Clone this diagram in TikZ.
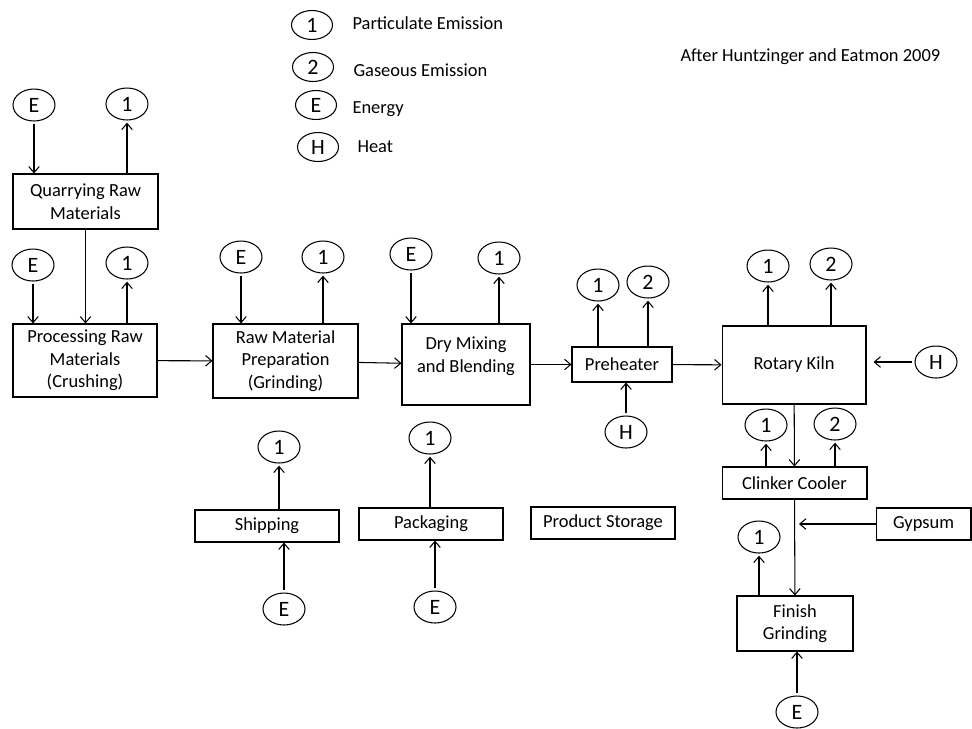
\documentclass[tikz,border=0pt]{standalone}
\usepackage{fontspec}
\setmainfont{Carlito}
\usetikzlibrary{shapes.geometric,arrows.meta}
\tikzstyle{stage} = [draw, rectangle, align=center, inner sep=0pt, font=\fontsize{10.5}{12.8}\selectfont]
\tikzstyle{tag} = [draw, ellipse, minimum width=0.84cm, minimum height=0.64cm, inner sep=0pt, outer sep=1.5pt, font=\fontsize{12.5}{14}\selectfont]
\tikzstyle{key} = [tag, minimum width=0.82cm, minimum height=0.58cm]
\tikzstyle{note} = [anchor=west, inner sep=0pt, font=\fontsize{10.5}{12.8}\selectfont]
\tikzstyle{flow} = [-{Straight Barb[length=3.5pt,width=6pt]}]

\begin{document}
\begin{tikzpicture}[x=0.02cm, y=-0.02cm, line width=0.6pt]
\useasboundingbox (0,0) rectangle (972,728);

% legend
\node[key] (l1) at (312,25) {1};
\node[key] (l2) at (313,67) {2};
\node[key] (le) at (316,105) {E};
\node[key] (lh) at (318,147) {H};
\node[note] (l1t) at (352,23) {Particulate Emission};
\node[note] (l2t) at (353,70) {Gaseous Emission};
\node[note] (let) at (352,109) {Energy};
\node[note] (lht) at (357,147) {Heat};
\node[note] (src) at (680,57) {After Huntzinger and Eatmon 2009};

% process stages
\node[stage, minimum width=2.9cm, minimum height=1.1cm] (quarry) at (85.5,201.5) {Quarrying Raw\\Materials};
\node[stage, minimum width=2.88cm, minimum height=1.46cm] (proc) at (85,360.5) {Processing Raw\\Materials\\(Crushing)};
\node[stage, minimum width=2.9cm, minimum height=1.48cm] (prep) at (285.5,361) {Raw Material\\Preparation\\(Grinding)};
\node[stage, minimum width=2.56cm, minimum height=1.62cm] (dry) at (466,364.5) {Dry Mixing\\and Blending\\[-1.5pt]\mbox{}};
\node[stage, minimum width=2cm, minimum height=0.7cm] (pre) at (622,364.5) {Preheater};
\node[stage, minimum width=2.88cm, minimum height=1.56cm] (kiln) at (794,365) {Rotary Kiln};
\node[stage, minimum width=2.9cm, minimum height=0.64cm] (cool) at (794.5,483) {Clinker Cooler};
\node[stage, minimum width=1.9cm, minimum height=0.64cm] (gyp) at (923.5,524) {Gypsum};
\node[stage, minimum width=2.32cm, minimum height=1.1cm] (fin) at (795,623.5) {Finish\\Grinding};
\node[stage, minimum width=2.88cm, minimum height=0.64cm] (ship) at (267,526) {Shipping};
\node[stage, minimum width=2.88cm, minimum height=0.64cm] (pack) at (431,524) {Packaging};
\node[stage, minimum width=2.88cm, minimum height=0.64cm] (store) at (603,523) {Product Storage};

% inputs and emissions
\node[tag] (qe) at (34,105) {E};
\node[tag] (q1) at (127,104) {1};
\node[tag] (pe) at (33,265) {E};
\node[tag] (p1) at (127,263) {1};
\node[tag] (re) at (241,257) {E};
\node[tag] (r1) at (323,257) {1};
\node[tag] (de) at (411,254) {E};
\node[tag] (d1) at (499,258) {1};
\node[tag] (h1) at (598,285) {1};
\node[tag] (h2) at (648,282) {2};
\node[tag] (hh) at (626,432) {H};
\node[tag] (k1) at (768,266) {1};
\node[tag] (k2) at (831,264) {2};
\node[tag] (kh) at (936,362) {H};
\node[tag] (c1) at (766,425) {1};
\node[tag] (c2) at (835,424) {2};
\node[tag] (f1) at (759,537) {1};
\node[tag] (fe) at (797,712) {E};
\node[tag] (s1) at (279,447) {1};
\node[tag] (se) at (284,609) {E};
\node[tag] (a1) at (430,438) {1};
\node[tag] (ae) at (435,607) {E};
\coordinate (gj) at (799,524);

% main line
\draw[flow] (quarry.south) -- (quarry.south |- proc.north);
\draw[flow] (proc) -- (prep);
\draw[flow] (prep) -- (dry);
\draw[flow] (dry) -- (pre);
\draw[flow] (pre) -- (kiln);
\draw[flow] (kiln) -- (cool);
\draw[flow] (cool) -- (fin);
\draw[flow] (gyp) -- (gj);

% energy and heat in
\draw[flow] (qe) -- (qe |- quarry.north);
\draw[flow] (pe) -- (pe |- proc.north);
\draw[flow] (re) -- (re |- prep.north);
\draw[flow] (de) -- (de |- dry.north);
\draw[flow] (hh) -- (hh |- pre.south);
\draw[flow, shorten >=4pt] (kh) -- (kh -| kiln.east);
\draw[flow] (fe) -- (fe |- fin.south);
\draw[flow] (se) -- (se |- ship.south);
\draw[flow] (ae) -- (ae |- pack.south);

% emissions out
\draw[flow] (quarry.north -| q1) -- (q1);
\draw[flow] (proc.north -| p1) -- (p1);
\draw[flow] (prep.north -| r1) -- (r1);
\draw[flow] (dry.north -| d1) -- (d1);
\draw[flow] (pre.north -| h1) -- (h1);
\draw[flow] (pre.north -| h2) -- (h2);
\draw[flow] (kiln.north -| k1) -- (k1);
\draw[flow] (kiln.north -| k2) -- (k2);
\draw[flow] (cool.north -| c1) -- (c1);
\draw[flow] (cool.north -| c2) -- (c2);
\draw[flow] (fin.north -| f1) -- (f1);
\draw[flow] (ship.north -| s1) -- (s1);
\draw[flow] (pack.north -| a1) -- (a1);
\end{tikzpicture}
\end{document}
